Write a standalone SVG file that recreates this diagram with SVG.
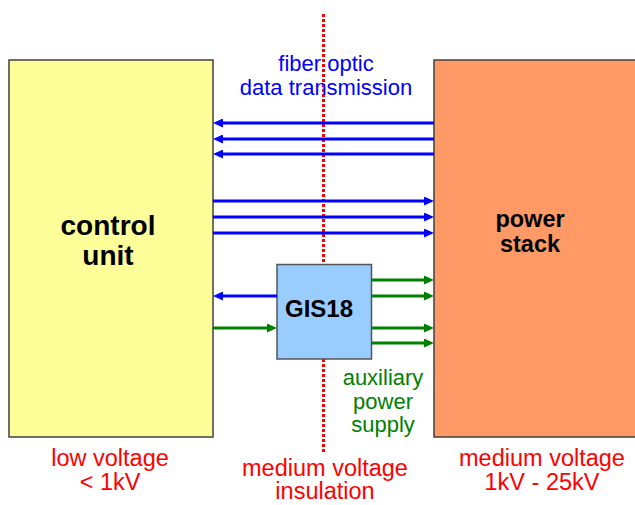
<svg xmlns="http://www.w3.org/2000/svg" width="635" height="505" viewBox="0 0 635 505">
<style>
.t{font-family:"Liberation Sans",Arial,sans-serif;text-anchor:middle}
.b{font-weight:bold;fill:#000}
.box{stroke:#404040;stroke-width:1.5}
.bl{stroke:#0000FF;stroke-width:3;fill:none}
.gr{stroke:#008000;stroke-width:3;fill:none}
.red{fill:#FF0000;font-size:23.5px}
</style>
<defs>
<marker id="ab" markerUnits="userSpaceOnUse" markerWidth="10" markerHeight="9" refX="5" refY="4.5" orient="auto">
<path d="M0,0 L10,4.5 L0,9 z" fill="#0000FF"/>
</marker>
<marker id="ag" markerUnits="userSpaceOnUse" markerWidth="10" markerHeight="9" refX="5" refY="4.5" orient="auto">
<path d="M0,0 L10,4.5 L0,9 z" fill="#008000"/>
</marker>
</defs>
<rect width="635" height="505" fill="#FFFFFF"/>
<g id="control-unit">
<rect class="box" x="9" y="60" width="204" height="377" fill="#FFFF99"/>
<text class="t b" x="108" y="235" font-size="28">control</text>
<text class="t b" x="108" y="265" font-size="28">unit</text>
</g>
<g id="power-stack">
<rect class="box" x="434" y="60" width="205" height="377" fill="#FF9966"/>
<text class="t b" x="530" y="227" font-size="23.5">power</text>
<text class="t b" x="530" y="252" font-size="23.5">stack</text>
</g>
<g id="insulation-line">
<line x1="323.5" y1="14" x2="323.5" y2="454" stroke="#FF0000" stroke-width="3" stroke-dasharray="3 2"/>
</g>
<g id="gis18">
<rect x="277" y="264.5" width="94.5" height="94.5" fill="#99CCFF" stroke="#555555" stroke-width="1.5"/>
<text class="t b" x="319" y="317" font-size="24">GIS18</text>
</g>
<g id="connectors">
<line class="bl" x1="434" y1="123" x2="218" y2="123" marker-end="url(#ab)"/>
<line class="bl" x1="434" y1="139" x2="218" y2="139" marker-end="url(#ab)"/>
<line class="bl" x1="434" y1="154" x2="218" y2="154" marker-end="url(#ab)"/>
<line class="bl" x1="213" y1="201" x2="429" y2="201" marker-end="url(#ab)"/>
<line class="bl" x1="213" y1="217" x2="429" y2="217" marker-end="url(#ab)"/>
<line class="bl" x1="213" y1="233" x2="429" y2="233" marker-end="url(#ab)"/>
<line class="bl" x1="277" y1="296" x2="218" y2="296" marker-end="url(#ab)"/>
<line class="gr" x1="213" y1="328" x2="272" y2="328" marker-end="url(#ag)"/>
<line class="gr" x1="371.5" y1="280" x2="429" y2="280" marker-end="url(#ag)"/>
<line class="gr" x1="371.5" y1="296" x2="429" y2="296" marker-end="url(#ag)"/>
<line class="gr" x1="371.5" y1="328" x2="429" y2="328" marker-end="url(#ag)"/>
<line class="gr" x1="371.5" y1="343" x2="429" y2="343" marker-end="url(#ag)"/>
</g>
<g id="labels">
<text class="t" x="326" y="71" font-size="22" fill="#0000FF">fiber optic</text>
<text class="t" x="326" y="94.5" font-size="22" fill="#0000FF">data transmission</text>
<text class="t" x="383" y="385" font-size="22" fill="#008000">auxiliary</text>
<text class="t" x="383" y="408.5" font-size="22" fill="#008000">power</text>
<text class="t" x="383" y="432" font-size="22" fill="#008000">supply</text>
<text class="t red" x="110" y="466">low voltage</text>
<text class="t red" x="110" y="490">&lt; 1kV</text>
<text class="t red" x="325" y="475.5" font-size="23px">medium voltage</text>
<text class="t red" x="325" y="499" font-size="23px">insulation</text>
<text class="t red" x="542" y="466">medium voltage</text>
<text class="t red" x="542" y="490">1kV - 25kV</text>
</g>
</svg>
